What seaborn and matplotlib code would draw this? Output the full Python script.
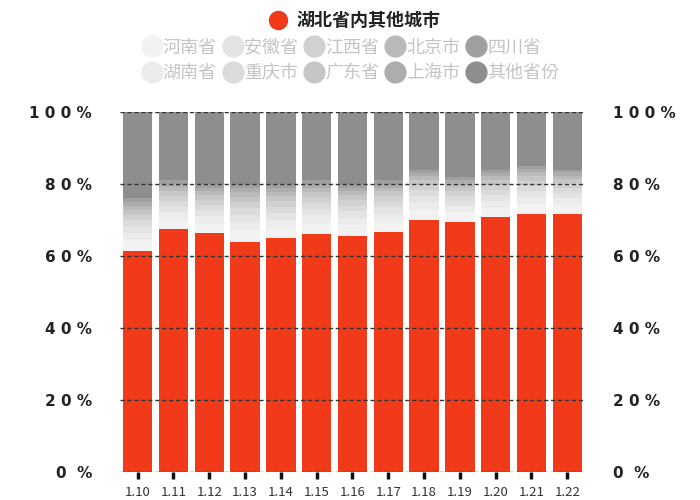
import matplotlib
matplotlib.use("Agg")
import matplotlib.pyplot as plt
from matplotlib import font_manager as fm
from matplotlib.lines import Line2D
import seaborn as sns
import pandas as pd
import numpy as np

cjk = None
for f in fm.fontManager.ttflist:
    if "CJK" in f.name and ("SC" in f.name or cjk is None):
        cjk = f.name
        if "SC" in f.name:
            break
plt.rcParams["font.family"] = [cjk, "DejaVu Sans"] if cjk else ["DejaVu Sans"]

dates = ["1.10","1.11","1.12","1.13","1.14","1.15","1.16","1.17","1.18","1.19","1.20","1.21","1.22"]
hubei = [61.5,67.5,66.3,63.8,64.9,66.2,65.6,66.8,70.0,69.5,70.7,71.8,71.8]
henan = [3.0,2.8,2.8,3.3,3.1,3.0,3.0,2.9,2.9,2.6,2.7,2.7,2.5]
hunan = [2.0,1.9,1.9,2.3,2.1,2.1,2.0,2.0,2.0,1.8,1.9,1.9,1.7]
anhui = [1.8,1.7,1.7,2.0,1.9,1.8,1.8,1.8,1.7,1.5,1.6,1.6,1.5]
chongqing = [1.6,1.5,1.5,1.8,1.7,1.7,1.6,1.6,1.6,1.4,1.5,1.5,1.4]
jiangxi = [1.5,1.4,1.4,1.7,1.6,1.5,1.5,1.5,1.5,1.3,1.4,1.4,1.3]
guangdong = [1.4,1.3,1.3,1.6,1.5,1.5,1.4,1.4,1.4,1.2,1.3,1.3,1.2]
beijing = [1.2,1.0,1.1,1.3,1.1,1.1,1.1,1.0,1.0,0.9,1.0,1.0,0.9]
shanghai = [1.0,0.9,1.0,1.2,1.0,1.0,1.0,1.0,1.0,0.9,0.9,0.9,0.9]
sichuan = [1.0,1.0,1.0,1.0,1.1,1.1,1.0,1.0,0.9,0.9,1.0,0.9,0.8]
others = [24,19,20,20,20,19,20,19,16,18,16,15,16]

names = ["湖北省内其他城市","河南省","湖南省","安徽省","重庆市","江西省","广东省","北京市","上海市","四川省","其他省份"]
series = [hubei,henan,hunan,anhui,chongqing,jiangxi,guangdong,beijing,shanghai,sichuan,others]
colors = ["#f03a1a","#f2f2f2","#ececec","#e4e4e4","#dbdbdb","#d1d1d1","#c6c6c6","#bababa","#adadad","#a0a0a0","#8e8e8e"]

fig = plt.figure(figsize=(7,5), dpi=100)
ax = fig.add_axes([0.171,0.056,0.665,0.72])

bottom = np.zeros(len(dates))
for name, vals, c in zip(names, series, colors):
    df = pd.DataFrame({"date": dates, "v": vals})
    sns.barplot(data=df, x="date", y="v", bottom=bottom, color=c, width=0.82,
                ax=ax, saturation=1, edgecolor="none")
    bottom = bottom + np.array(vals)

ax.set_ylim(0,100)
ax.set_xlim(-0.5,12.5)
ticks = [0,20,40,60,80,100]
labs = ["0  %","2 0 %","4 0 %","6 0 %","8 0 %","1 0 0 %"]
ax.set_yticks(ticks)
ax.set_yticklabels(labs, fontsize=11, color="#222222", fontfamily="DejaVu Sans", fontweight="bold")
for t in ticks:
    ax.axhline(t, color="#333333", ls=(0,(3,2)), lw=1, zorder=5)
ax2 = ax.twinx()
ax2.set_ylim(0,100)
ax2.set_yticks(ticks)
ax2.set_yticklabels(labs, fontsize=11, color="#222222", fontfamily="DejaVu Sans", fontweight="bold")
for a in (ax, ax2):
    for s in a.spines.values():
        s.set_visible(False)
    a.tick_params(axis="y", length=0, pad=20)
ax.tick_params(axis="x", length=5, width=2.5, color="#111111", labelsize=9.5, pad=5, labelcolor="#333333")
ax.set_xlabel(""); ax.set_ylabel("")

h0 = [Line2D([],[],marker="o",ls="",color=colors[0],markersize=13)]
l1 = fig.legend(h0,[names[0]],loc="upper center",bbox_to_anchor=(0.5,1.01),frameon=False,
                fontsize=13,handletextpad=0.0)
for t in l1.get_texts(): t.set_color("#222222"); t.set_fontweight("bold")
hs = [Line2D([],[],marker="o",ls="",color=c,markersize=15) for c in colors[1:]]
l2 = fig.legend(hs, names[1:], loc="upper center", bbox_to_anchor=(0.5,0.955), ncol=5,
                frameon=False, fontsize=13, handletextpad=0.0, columnspacing=0.3, labelspacing=0.4,
                handlelength=1.2)
for t in l2.get_texts(): t.set_color("#c4c4c4")
fig.savefig("out.png", dpi=100, facecolor="white")
